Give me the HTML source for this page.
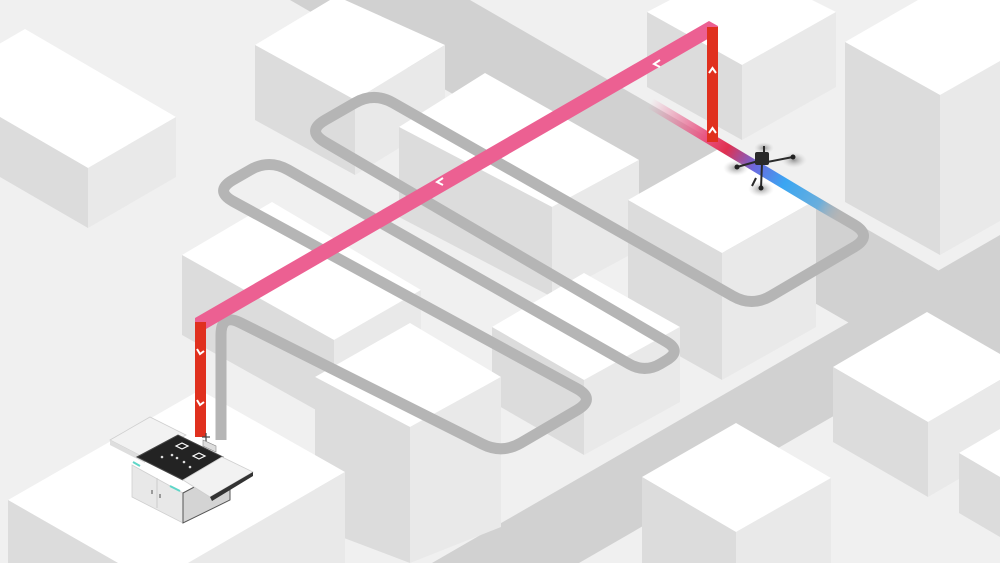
<!DOCTYPE html>
<html><head><meta charset="utf-8"><style>
html,body{margin:0;padding:0;background:#f0f0f0;width:1000px;height:563px;overflow:hidden;}
svg{display:block;}
</style></head><body>
<svg width="1000" height="563" viewBox="0 0 1000 563" xmlns="http://www.w3.org/2000/svg">
<defs>
<linearGradient id="route" gradientUnits="userSpaceOnUse" x1="650" y1="103" x2="842" y2="218">
<stop offset="0" stop-color="#e85a8a" stop-opacity="0"/>
<stop offset="0.3" stop-color="#e8507e"/>
<stop offset="0.4" stop-color="#e03050"/>
<stop offset="0.55" stop-color="#6a6ae0"/>
<stop offset="0.7" stop-color="#3aa6f2"/>
<stop offset="0.88" stop-color="#6aaedc"/>
<stop offset="1" stop-color="#b5b5b5" stop-opacity="0"/>
</linearGradient>
<radialGradient id="prop"><stop offset="0" stop-color="#555" stop-opacity="0.6"/><stop offset="0.6" stop-color="#999" stop-opacity="0.25"/><stop offset="1" stop-color="#ccc" stop-opacity="0"/></radialGradient>
</defs>
<rect width="1000" height="563" fill="#f0f0f0"/>
<polygon points="290,0 470,0 1000,306 1000,410" fill="#d1d1d1"/>
<polygon points="432,563 1000,235 1000,320 579,563" fill="#d1d1d1"/>

<g>
<polygon points="25,29 176,117 88,168 0,117 0,43.5" fill="#fff"/>
<polygon points="0,117 88,168 88,228 0,177" fill="#dcdcdc"/>
<polygon points="88,168 176,117 176,177 88,228" fill="#e9e9e9"/>
<polygon points="345,0 445,45 355,100 255,45 330,0" fill="#fff"/>
<polygon points="255,45 355,100 355,175 255,120" fill="#dcdcdc"/>
<polygon points="355,100 445,45 445,120 355,175" fill="#e9e9e9"/>
<polygon points="670,0 812,0 836,12 742,65 647,12" fill="#fff"/>
<polygon points="647,12 742,65 742,140 647,87" fill="#dcdcdc"/>
<polygon points="742,65 836,12 836,87 742,140" fill="#e9e9e9"/>
<polygon points="918,0 1000,0 1000,66 940,95 845,42" fill="#fff"/>
<polygon points="845,42 940,95 940,255 845,202" fill="#dcdcdc"/>
<polygon points="940,95 1000,61 1000,221 940,255" fill="#e9e9e9"/>
<polygon points="485,73 639,160 552,207 399,127" fill="#fff"/>
<polygon points="399,127 552,207 552,297 399,217" fill="#dcdcdc"/>
<polygon points="552,207 639,160 639,250 552,297" fill="#e9e9e9"/>
<polygon points="272,202 421,290 334,340 182,255" fill="#fff"/>
<polygon points="182,255 334,340 334,420 182,335" fill="#dcdcdc"/>
<polygon points="334,340 421,290 421,370 334,420" fill="#e9e9e9"/>
<polygon points="722,147 816,200 722,253 628,200" fill="#fff"/>
<polygon points="628,200 722,253 722,380 628,327" fill="#dcdcdc"/>
<polygon points="722,253 816,200 816,327 722,380" fill="#e9e9e9"/>
<polygon points="584,273 680,327 584,380 492,327" fill="#fff"/>
<polygon points="492,327 584,380 584,455 492,402" fill="#dcdcdc"/>
<polygon points="584,380 680,327 680,402 584,455" fill="#e9e9e9"/>
<polygon points="927,312 1000,354 1000,380 928,422 833,367" fill="#fff"/>
<polygon points="833,367 928,422 928,497 833,442" fill="#dcdcdc"/>
<polygon points="928,422 1000,380 1000,455 928,497" fill="#e9e9e9"/>
<polygon points="410,323 501,377 410,427 315,377" fill="#fff"/>
<polygon points="315,377 410,427 410,563 315,527" fill="#dcdcdc"/>
<polygon points="410,427 501,377 501,527 410,563" fill="#e9e9e9"/>
<polygon points="1000,429 1000,477 959,453" fill="#fff"/>
<polygon points="959,453 1000,477 1000,537 959,513" fill="#dcdcdc"/>
<polygon points="200,390 345,472 188,563 118,563 8,500" fill="#fff"/>
<polygon points="8,500 118,563 8,563" fill="#dcdcdc"/>
<polygon points="188,563 345,472 345,563" fill="#e9e9e9"/>
<polygon points="736,423 831,478 736,532 642,477" fill="#fff"/>
<polygon points="642,477 736,532 736,563 642,563" fill="#dcdcdc"/>
<polygon points="736,532 831,478 831,563 736,563" fill="#e9e9e9"/>
</g>

<path d="M221,440 L221,335 Q221,313 240.7,322.9 L482.3,444.1 Q502,454 521,442.9 L577,410.1 Q596,399 576.7,388.5 L233.3,201.5 Q214,191 233,179.9 L250,170.1 Q269,159 288.1,169.9 L629.4,364.1 Q645,373 660.5,363.8 L666.5,360.2 Q682,351 666.5,341.9 L325,142.1 Q306,131 325.2,120 L354.8,103 Q374,92 393.1,102.9 L732.9,296.1 Q752,307 771,295.9 L854,247.1 Q873,236 854.1,224.7 L812,200" fill="none" stroke="#b5b5b5" stroke-width="11" stroke-linejoin="round"/>
<line x1="650" y1="103" x2="842" y2="218" stroke="url(#route)" stroke-width="11"/>

<polygon points="195,318 709,21 718,26 718,33 206,329 195,323" fill="#ec6092"/>
<rect x="195" y="322" width="11" height="115" fill="#e0301e"/>
<rect x="707" y="27" width="11" height="115" fill="#e0301e"/>
<g fill="none" stroke="#fff" stroke-width="2">
<path d="M197,349 L200,354 L204,351"/>
<path d="M197,400 L200,405 L204,402"/>
<path d="M709,73 L712.5,68 L716,73"/>
<path d="M709,133 L712.5,128 L716,133"/>
<path d="M443,178 L437,182 L443,185"/>
<path d="M660,60 L654,64 L660,67"/>
</g>

<ellipse cx="736" cy="168" rx="13" ry="8" fill="url(#prop)"/>
<ellipse cx="794" cy="160" rx="13" ry="8" fill="url(#prop)"/>
<ellipse cx="761" cy="189" rx="13" ry="8" fill="url(#prop)"/>
<ellipse cx="764" cy="148" rx="10" ry="6" fill="url(#prop)"/>
<g stroke="#2a2a2a" stroke-width="2">
<line x1="737" y1="167" x2="762" y2="160"/>
<line x1="793" y1="157" x2="762" y2="163"/>
<line x1="761" y1="188" x2="762" y2="163"/>
<line x1="764" y1="146" x2="764" y2="156"/>
<line x1="756" y1="178" x2="752" y2="186"/>
</g>
<rect x="755" y="152" width="14" height="13" rx="2" fill="#2a2a2a"/>
<circle cx="737" cy="167" r="2.5" fill="#222"/>
<circle cx="793" cy="157" r="2.5" fill="#222"/>
<circle cx="761" cy="188" r="2.5" fill="#222"/>

<polygon points="132,465 183,493 183,523 132,497" fill="#e8e8e8" stroke="#cfcfcf" stroke-width="0.8"/>
<polygon points="183,493 230,468 230,500 183,523" fill="#d4d4d4" stroke="#555" stroke-width="1"/>
<line x1="157" y1="478" x2="157" y2="508" stroke="#ccc"/>
<line x1="152" y1="490" x2="152" y2="494" stroke="#666" stroke-width="1.2"/>
<line x1="160" y1="494" x2="160" y2="498" stroke="#666" stroke-width="1.2"/>
<polygon points="110,440 150,417 186,435 145,458" fill="#f2f2f2" stroke="#cfcfcf" stroke-width="0.8"/>
<polygon points="110,440 145,458 145,463 110,445" fill="#dedede"/>
<polygon points="137,457 178,435 223,457 183,480" fill="#232323" stroke="#444"/>
<polygon points="183,480 222,457 253,472 210,497" fill="#f2f2f2" stroke="#cfcfcf" stroke-width="0.8"/>
<polyline points="210,497 253,472 253,476 212,501" fill="#333"/>
<g fill="none" stroke="#fff" stroke-width="1.2">
<polygon points="176,446 182,443 188,446 182,449"/>
<polygon points="193,456 199,453 205,456 199,459"/>
</g>
<g fill="#ddd"><circle cx="172" cy="455" r="1.3"/><circle cx="177" cy="458" r="1.3"/><circle cx="184" cy="462" r="1.3"/><circle cx="190" cy="467" r="1.3"/><circle cx="162" cy="457" r="1.3"/></g>
<line x1="133" y1="462" x2="140" y2="466" stroke="#5ed6c8" stroke-width="2"/>
<line x1="170" y1="486" x2="180" y2="491" stroke="#5ed6c8" stroke-width="2"/>
<g stroke="#444" stroke-width="1.2"><line x1="206" y1="433" x2="206" y2="442"/><line x1="202" y1="437" x2="210" y2="437"/></g>
<polygon points="203,440 216,446 216,452 203,446" fill="#ddd" stroke="#888" stroke-width="0.6"/>
</svg>
</body></html>
